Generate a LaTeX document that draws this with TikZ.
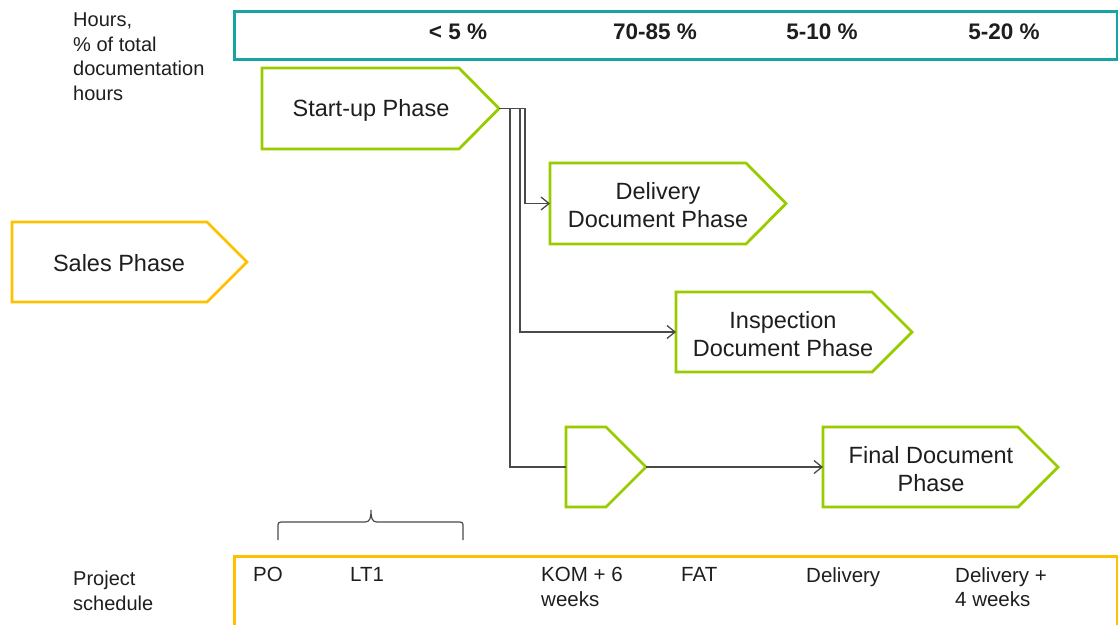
\documentclass[tikz,border=0pt]{standalone}
\usepackage{fontspec}
\setmainfont{Liberation Sans}
\usetikzlibrary{arrows.meta}
\definecolor{phasegreen}{HTML}{99CC00}
\definecolor{salesyellow}{HTML}{FFC000}
\definecolor{hourteal}{HTML}{1AA3A3}
\definecolor{linkgray}{HTML}{4A4A4A}
\definecolor{textdark}{HTML}{1E1E1E}

% pentagon-shaped phase outline: name, left, top, bottom, shoulder x, tip x, colour
\newcommand\phaseshape[7]{%
  \draw[phaseline,draw=#7] (#2,#3) -- (#5,#3) -- (#6,{(#3+#4)/2}) -- (#5,#4) -- (#2,#4) -- cycle;
  \coordinate (#1-in) at (#2,{(#3+#4)/2});
  \coordinate (#1-out) at (#6,{(#3+#4)/2});
}

\begin{document}
\begin{tikzpicture}[x=1pt,y=-1pt,
  phaseline/.style={line width=2.8pt,line join=miter},
  phasetext/.style={text=textdark,align=center,inner sep=0pt,
    font=\fontsize{23.5}{28}\selectfont},
  sidetext/.style={text=textdark,align=left,inner sep=0pt,anchor=north west,
    font=\fontsize{20}{24.5}\selectfont},
  schedtext/.style={text=textdark,align=left,inner sep=0pt,anchor=north west,
    font=\fontsize{20.5}{24.5}\selectfont},
  pct/.style={text=textdark,inner sep=0pt,font=\fontsize{22.5}{26}\selectfont\bfseries},
  link/.style={draw=linkgray,line width=1.3pt},
  tip/.style={-{Straight Barb[length=8pt,width=13pt,line width=1.3pt]}}
]
\useasboundingbox (0,0) rectangle (1118,624);

% hours band
\node[draw=hourteal,line width=2.8pt,minimum width=883pt,minimum height=48pt,
  inner sep=0pt,anchor=north west] (hours) at (233,10) {};
\node[pct] (p1) at (458,32) {< 5 \%};
\node[pct] (p2) at (655,32) {70-85 \%};
\node[pct] (p3) at (822,32) {5-10 \%};
\node[pct] (p4) at (1004,32) {5-20 \%};
\node[sidetext] (hourslabel) at (73,13) {Hours,\\\% of total\\documentation\\hours};

% phases
\phaseshape{sales}{12}{222}{302}{207}{247}{salesyellow}
\phaseshape{start}{262}{68}{149}{459}{499}{phasegreen}
\phaseshape{delivery}{550}{163}{244}{746}{786}{phasegreen}
\phaseshape{inspection}{676}{292}{372}{872}{912}{phasegreen}
\phaseshape{gate}{566}{427}{507}{606}{646}{phasegreen}
\phaseshape{final}{823}{427}{507}{1018}{1058}{phasegreen}

\node[phasetext] (salesT) at (119,263) {Sales Phase};
\node[phasetext] (startT) at (371,110.5) {Start-up Phase};
\node[phasetext] (deliveryT) at (658,205) {Delivery\\Document Phase};
\node[phasetext] (inspectionT) at (783,334) {Inspection\\Document Phase};
\node[phasetext] (finalT) at (931,469) {Final Document\\Phase};

% connectors
\draw[link,tip] (start-out) -- ++(26,0) |- (delivery-in);
\draw[link,tip] (start-out) -- ++(21,0) |- (inspection-in);
\draw[link] (start-out) -- ++(11,0) |- (gate-in);
\draw[link,tip] (gate-out) -- (final-in);

% brace over the first weeks
\draw[draw=linkgray,line width=1.2pt]
  (278,540) -- (278,528) .. controls (278,522) .. (284,522) -- (365,522)
  .. controls (370,522) and (371,518) .. (371,510)
  .. controls (371,518) and (372,522) .. (377,522) -- (457,522)
  .. controls (463,522) .. (463,528) -- (463,540);

% project schedule band
\node[draw=salesyellow,line width=2.8pt,minimum width=883pt,minimum height=90pt,
  inner sep=0pt,anchor=north west] (schedule) at (233,555) {};
\node[sidetext] (schedlabel) at (73,571) {Project\\schedule};
\node[schedtext] (po) at (253,567) {PO};
\node[schedtext] (lt1) at (350,567) {LT1};
\node[schedtext] (kom) at (541,567) {KOM + 6\\weeks};
\node[schedtext] (fat) at (681,567) {FAT};
\node[schedtext] (deliv) at (806,567) {Delivery};
\node[schedtext] (deliv4) at (955,567) {Delivery +\\4 weeks};
\end{tikzpicture}
\end{document}
